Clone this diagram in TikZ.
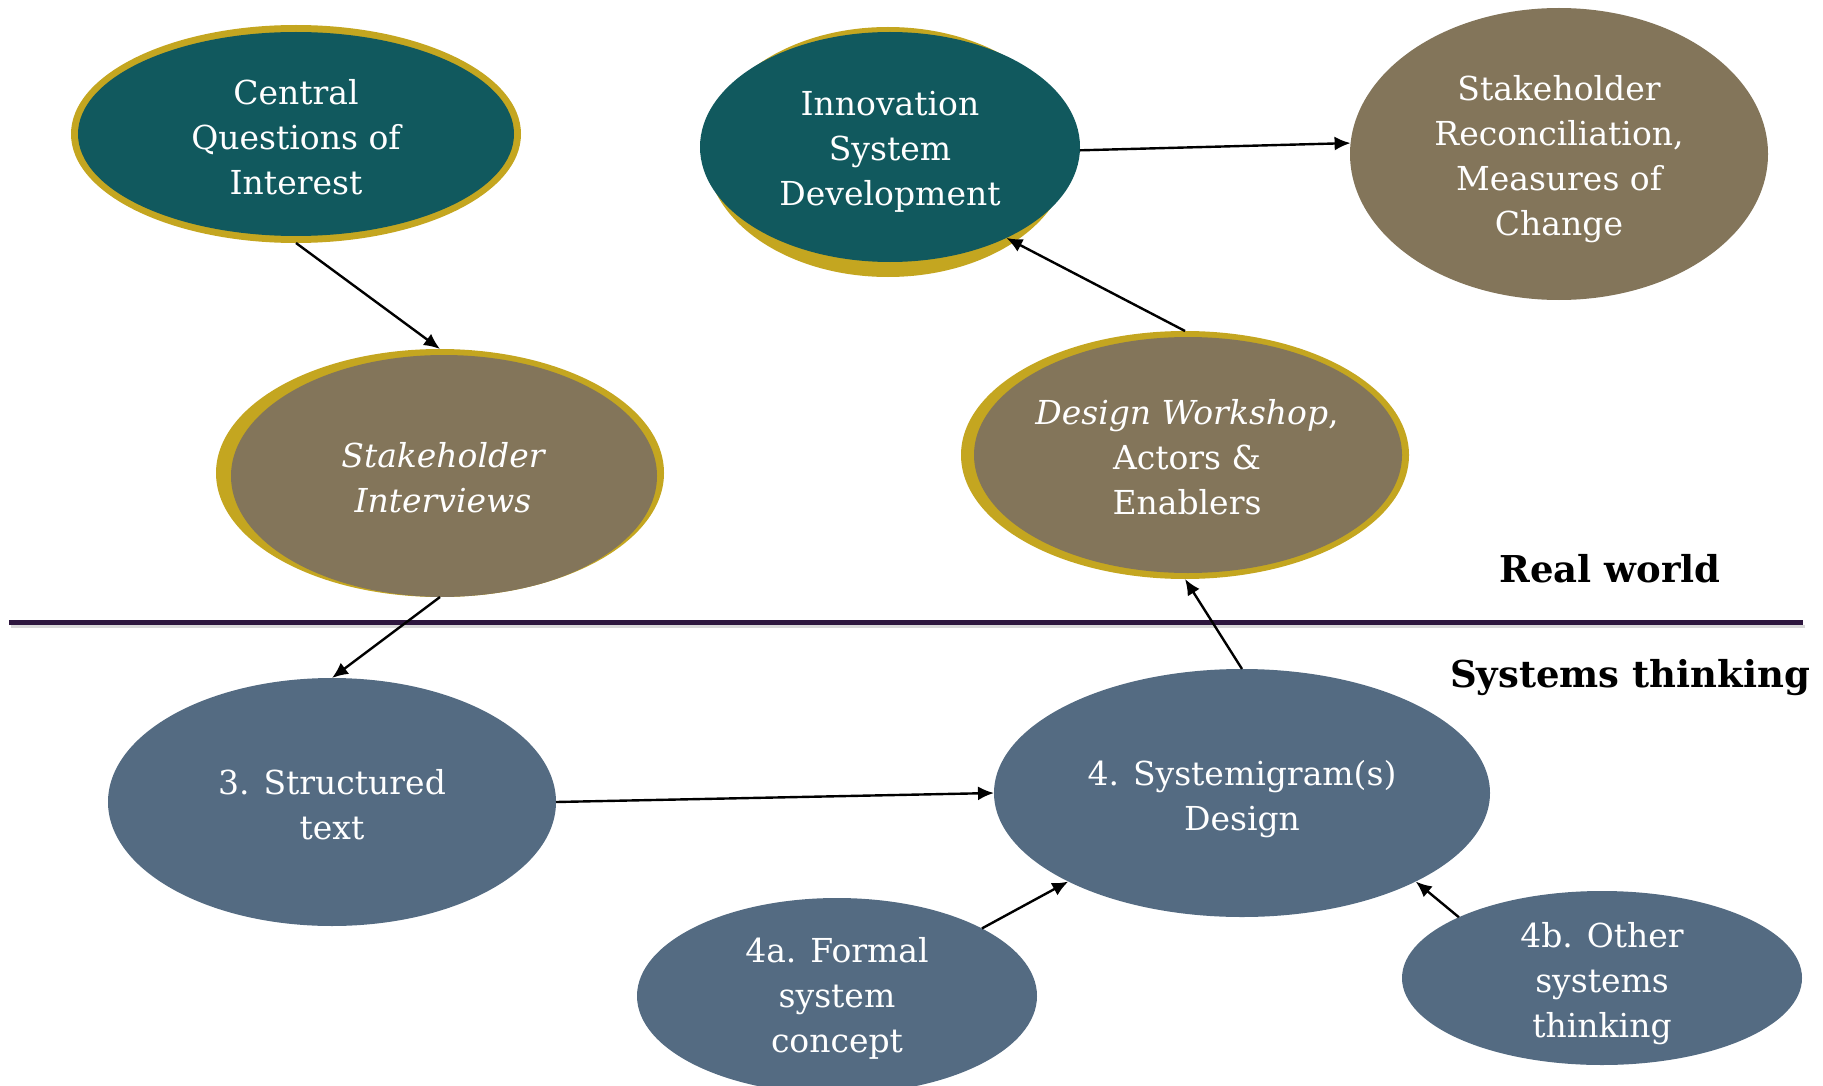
\documentclass[tikz,border=0pt]{standalone}
\usepackage{fontspec}
\setmainfont{DejaVu Serif}
\usetikzlibrary{shapes.geometric,arrows.meta}
\definecolor{tealc}{RGB}{17,89,94}
\definecolor{goldc}{RGB}{196,166,32}
\definecolor{brownc}{RGB}{131,117,90}
\definecolor{slatec}{RGB}{84,107,130}
\definecolor{linec}{RGB}{45,22,62}
\begin{document}
\begin{tikzpicture}[x=1pt,y=-1pt,
  bubble/.style={ellipse,inner sep=0pt,outer sep=0pt},
  tealb/.style={bubble,fill=tealc},
  brownb/.style={bubble,fill=brownc},
  slateb/.style={bubble,fill=slatec},
  lbl/.style={inner sep=0pt,text=white,align=center,font=\fontsize{33}{45}\selectfont},
  region/.style={font=\bfseries\fontsize{37}{40}\selectfont,anchor=base,inner sep=0pt},
  arr/.style={line width=2.4pt,-{Latex[length=16pt,width=14pt]}}]
\useasboundingbox (0,0) rectangle (1823,1086);

% divider
\draw[line width=3pt,black!15] (11,626) -- (1805,626);
\draw[line width=5pt,linec] (9,622) -- (1803,622);
\node[region] (rw) at (1610,582) {Real world};
\node[region] (syt) at (1630,687) {Systems thinking};

% Real world nodes
\node[bubble,fill=goldc,minimum width=450pt,minimum height=218pt,
  path picture={\fill[tealc] (path picture bounding box.center) ellipse [x radius=218pt,y radius=102pt];}]
  (cq) at (296,134) {};
\node[lbl] (cqt) at (296,137.5) {Central\\Questions of\\Interest};

\fill[goldc] (888,152) ellipse [x radius=182, y radius=125];
\node[tealb,minimum width=380pt,minimum height=230pt] (isd) at (890,147) {};
\node[lbl] (isdt) at (890,152) {Innovation\\System\\Development};

\node[brownb,minimum width=418pt,minimum height=292pt] (sr) at (1559,154) {};
\node[lbl] (srt) at (1559,159) {Stakeholder\\Reconciliation,\\Measures of\\Change};

\node[bubble,fill=goldc,minimum width=448pt,minimum height=248pt,
  path picture={\fill[brownc] ([xshift=4pt,yshift=-3pt]path picture bounding box.center) ellipse [x radius=213pt,y radius=121pt];}]
  (si) at (440,473) {};
\node[lbl] (sit) at (443,478) {\itshape Stakeholder\\\itshape Interviews};

\node[bubble,fill=goldc,minimum width=448pt,minimum height=248pt,
  path picture={\fill[brownc] ([xshift=3pt]path picture bounding box.center) ellipse [x radius=214pt,y radius=118pt];}]
  (dw) at (1185,455) {};
\node[lbl] (dwt) at (1187,457) {{\itshape Design Workshop},\\Actors \&\\Enablers};

% Systems thinking nodes
\node[slateb,minimum width=448pt,minimum height=248pt] (st) at (332,802) {};
\node[lbl] (stt) at (332,804.5) {3. Structured\\text};
\node[slateb,minimum width=496pt,minimum height=248pt] (sd) at (1242,793) {};
\node[lbl] (sdt) at (1242,799) {4. Systemigram(s)\\Design};
\node[slateb,minimum width=400pt,minimum height=196pt] (fa) at (837,996) {};
\node[lbl] (fat) at (837,998.5) {4a. Formal\\system\\concept};
\node[slateb,minimum width=400pt,minimum height=174pt] (ob) at (1602,978) {};
\node[lbl] (obt) at (1602,984) {4b. Other\\systems\\thinking};

% connectors
\draw[arr] (cq.south) -- (si.north);
\draw[arr] (si.south) -- (st.north);
\draw[arr] (st.east) -- (sd.west);
\draw[arr] (sd.north) -- (dw.south);
\draw[arr] (dw.north) -- (isd.-38);
\draw[arr] (isd.-1.5) -- (sr.177);
\draw[arr] (fa.25) -- (sd.207);
\draw[arr] (ob.157) -- (sd.333);
\end{tikzpicture}
\end{document}
